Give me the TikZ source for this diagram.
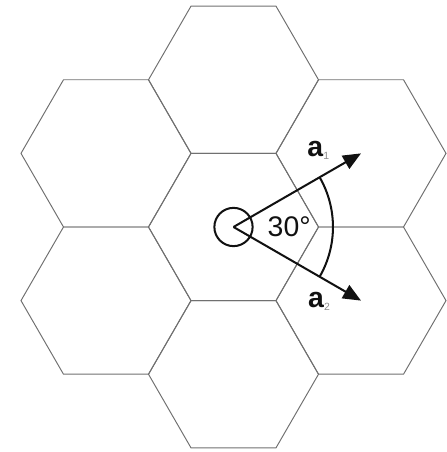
\documentclass[tikz,border=0pt]{standalone}
\usepackage{fontspec}
\setmainfont{Liberation Sans}
\usetikzlibrary{arrows.meta,positioning,calc}
\definecolor{hxLine}{HTML}{707070}
\definecolor{hxInk}{HTML}{111111}
\definecolor{hxSub}{HTML}{8C8C8C}
\tikzset{
  % Hexagon cell outline
  hexcell/.style={draw=hxLine,line width=0.65pt,line join=miter},
  % Lattice vectors
  vec/.style={-{Triangle[length=12pt,width=10pt]},line width=1.35pt,color=hxInk},
  % Angle arc
  anglearc/.style={line width=1.35pt,color=hxInk},
  % Origin ring
  ring/.style={circle,draw=hxInk,line width=1.35pt,minimum size=0.9cm,inner sep=0pt},
  % Labels
  veclbl/.style={font=\fontsize{19}{19}\selectfont,text=hxInk,inner sep=0pt},
  anglelbl/.style={font=\fontsize{19}{19}\selectfont,text=hxInk,inner sep=0pt},
}
\newcommand{\subidx}[1]{\raisebox{-2pt}{\fontsize{7}{7}\selectfont\color{hxSub}#1}}

\begin{document}
\begin{tikzpicture}
  \useasboundingbox (-5.494,-5.294) rectangle (5.0,5.341);

  % seven cells: centre + six neighbours
  \foreach \ang/\dist in {0/0,30/3.4641,90/3.4641,150/3.4641,210/3.4641,270/3.4641,330/3.4641}{
    \draw[hexcell,shift={(\ang:\dist)}]
      (0:2) -- (60:2) -- (120:2) -- (180:2) -- (240:2) -- (300:2) -- cycle;
  }

  \node[ring] (origin) at (0,0) {};
  \coordinate (a1tip) at (30:3.4641);
  \coordinate (a2tip) at (-30:3.4641);

  \draw[vec] (origin.center) -- (a1tip);
  \draw[vec] (origin.center) -- (a2tip);
  \draw[anglearc] (-30:2.34) arc[start angle=-30,end angle=30,radius=2.34];

  \node[anglelbl] (angle) at (1.31,0) {30°};
  \node[veclbl,anchor=base west] (a1lbl) at ($(a1tip)+(-1.27,-0.085)$) {\textbf{a}\subidx{1}};
  \node[veclbl,anchor=base west] (a2lbl) at ($(a2tip)+(-1.25,-0.17)$) {\textbf{a}\subidx{2}};
\end{tikzpicture}
\end{document}
